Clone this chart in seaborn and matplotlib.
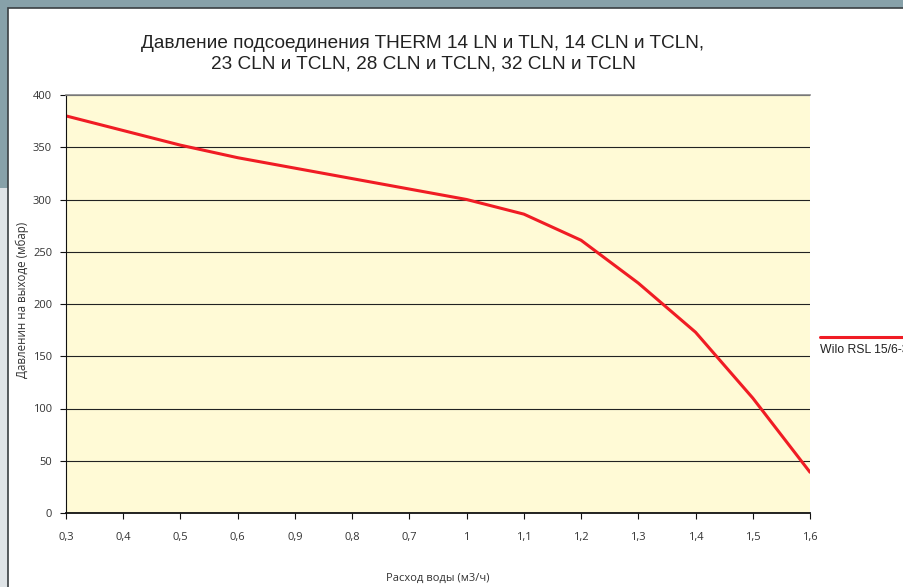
import matplotlib
matplotlib.use("Agg")
import matplotlib.pyplot as plt
from matplotlib.patches import Rectangle
from matplotlib.lines import Line2D
import pandas as pd
import seaborn as sns

# data
flow_labels = ["0,3", "0,4", "0,5", "0,6", "0,9", "0,8", "0,7",
               "1", "1,1", "1,2", "1,3", "1,4", "1,5", "1,6"]
pressure = [380, 366, 352, 340, 330, 320, 310, 300, 286, 261, 220, 173, 110, 39]
series_name = "Wilo RSL 15/6-3"

title = ("Давление подсоединения THERM 14 LN и TLN, 14 CLN и TCLN,\n"
         "23 CLN и TCLN, 28 CLN и TCLN, 32 CLN и TCLN")
xlabel = "Расход воды (м3/ч)"
ylabel = "Давленин на выходе (мбар)"

df = pd.DataFrame({"flow": flow_labels, "pressure": pressure})

sns.set_style("white")
plt.rcParams["font.family"] = ["Liberation Sans", "DejaVu Sans"]

W, H = 904, 587
fig = plt.figure(figsize=(W / 100, H / 100), dpi=100)
fig.patch.set_facecolor("#dfe4e7")

# window frame decoration (behind the axes)
def px_rect(x0, y0, x1, y1, **kw):
    fig.add_artist(Rectangle((x0 / W, 1 - y1 / H), (x1 - x0) / W, (y1 - y0) / H,
                             transform=fig.transFigure, zorder=-5, **kw))

px_rect(0, 0, W, 9, facecolor="#87a1a9", edgecolor="none")
px_rect(0, 0, 9, 188, facecolor="#87a1a9", edgecolor="none")
px_rect(8, 8, W + 5, H + 5, facecolor="white", edgecolor="#3a3f42", linewidth=1.2)

ax = fig.add_axes([66 / W, 1 - 513 / H, (810 - 66) / W, (513 - 95) / H])
ax.set_facecolor("#fffad6")

sns.lineplot(data=df, x="flow", y="pressure", sort=False, color="#f01c24",
             linewidth=2.2, ax=ax, legend=False)

ax.set_xlim(0, len(flow_labels) - 1)
ax.set_ylim(0, 400)
ax.set_yticks(range(0, 401, 50))
ax.yaxis.grid(True, color="#222222", linewidth=0.8)
ax.set_axisbelow(True)

ax.spines["right"].set_visible(False)
ax.spines["top"].set_color("#8a8a8a")
ax.spines["top"].set_linewidth(1.2)
ax.spines["left"].set_color("#111111")
ax.spines["bottom"].set_color("#111111")
ax.spines["bottom"].set_linewidth(1.3)

tick_font = ["Open Sans", "DejaVu Sans"]
ax.tick_params(axis="both", direction="out", length=4, width=0.8, color="#111111",
               labelsize=8, labelcolor="#333333", bottom=True, left=True)
for lab in ax.get_xticklabels() + ax.get_yticklabels():
    lab.set_fontfamily(tick_font)
ax.tick_params(axis="x", pad=10)
ax.tick_params(axis="y", pad=6)

ax.set_xlabel(xlabel, fontsize=8, family=tick_font, color="#333333")
ax.set_ylabel(ylabel, fontsize=8.3, family=tick_font, color="#333333")
ax.xaxis.set_label_coords(0.5, (513 - 578) / 418)
ax.yaxis.set_label_coords((22 - 66) / 744, 0.5 - (300 - 304) / 418)
ax.xaxis.label.set_va("center")
ax.yaxis.label.set_va("center")

fig.text(423 / W, 1 - 54 / H, title, ha="center", va="center", fontsize=13.7,
         color="#222222", linespacing=1.3)

# legend drawn beside the plot area
fig.add_artist(Line2D([820 / W, 1.0], [1 - 337 / H, 1 - 337 / H],
                      transform=fig.transFigure, color="#f01c24", linewidth=2.2))
fig.text(820 / W, 1 - 350 / H, series_name, ha="left", va="center", fontsize=8.8,
         color="#222222")

fig.savefig("out.png", dpi=100, facecolor=fig.get_facecolor())
